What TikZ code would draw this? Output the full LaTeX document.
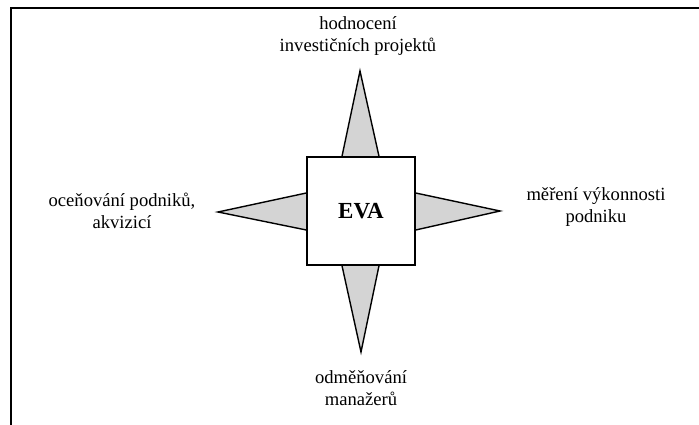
\documentclass[tikz,border=0pt]{standalone}
\usepackage{fontspec}
\setmainfont{Liberation Serif}
\usetikzlibrary{calc}
\begin{document}
\begin{tikzpicture}[x=1pt,y=-1pt,
  lbl/.style={align=center,inner sep=0pt,font=\fontsize{18.6}{22.5}\selectfont},
  spike/.style={draw=black,line width=1.4pt,fill=black!17,line join=miter},
  evabox/.style={draw=black,line width=1.4pt,fill=white,minimum width=108pt,minimum height=108pt,inner sep=0pt,font=\fontsize{23}{26}\selectfont\bfseries}]
\useasboundingbox (0,0) rectangle (699,425);
\draw[line width=2pt] (699,8) -- (11,8) -- (11,425);
\node[evabox] (eva) at (361,211) {};
\coordinate (tt) at (360,71);
\coordinate (tb) at (361,352);
\coordinate (tl) at (218,212);
\coordinate (tr) at (500,211);
\draw[spike] ($(eva.north)+(-19,0)$) -- (tt) -- ($(eva.north)+(18,0)$);
\draw[spike] ($(eva.south)+(-19,0)$) -- (tb) -- ($(eva.south)+(18,0)$);
\draw[spike] ($(eva.west)+(0,-18)$) -- (tl) -- ($(eva.west)+(0,19)$);
\draw[spike] ($(eva.east)+(0,-18)$) -- (tr) -- ($(eva.east)+(0,19)$);
\node[evabox] (evb) at (361,211) {EVA};
\node[lbl] (top) at (358,36) {hodnocení\\investičních projektů};
\node[lbl] (bot) at (361,388) {odměňování\\manažerů};
\node[lbl] (lft) at (122,211) {oceňování podniků,\\akvizicí};
\node[lbl] (rgt) at (596,207) {měření výkonnosti\\podniku};
\end{tikzpicture}
\end{document}
